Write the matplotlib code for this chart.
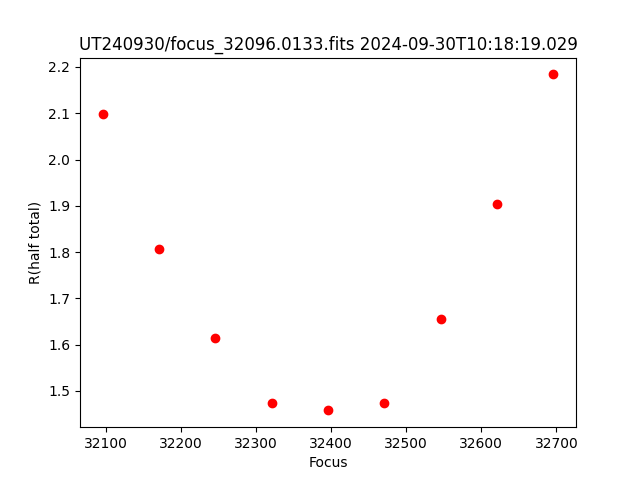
import matplotlib
matplotlib.use("Agg")
import matplotlib.pyplot as plt

focus = [32096, 32171, 32246, 32321, 32396, 32471, 32546, 32621, 32696]
r_half = [2.098, 1.806, 1.615, 1.473, 1.458, 1.475, 1.655, 1.903, 2.184]

fig = plt.figure(figsize=(6.4, 4.8), dpi=100)
plt.plot(focus, r_half, "ro")
plt.xlabel("Focus")
plt.ylabel("R(half total)")
plt.title("UT240930/focus_32096.0133.fits 2024-09-30T10:18:19.029")
plt.savefig("out.png")
